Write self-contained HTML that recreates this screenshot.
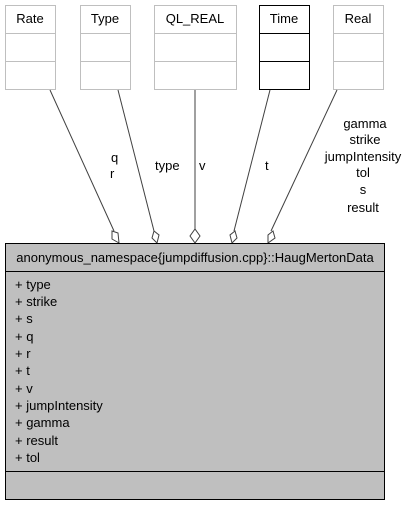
<!DOCTYPE html>
<html><head><style>
body{margin:0;background:#fff;width:409px;height:507px;overflow:hidden}
svg text{font-family:"Liberation Sans",sans-serif;font-size:13px;fill:#000}
</style></head><body>
<svg width="409" height="507" xmlns="http://www.w3.org/2000/svg">
<g fill="#fff" stroke="#bfbfbf" stroke-width="1">
<rect x="5.5" y="5.5" width="50" height="84"/><line x1="5" y1="33.5" x2="56" y2="33.5"/><line x1="5" y1="61.5" x2="56" y2="61.5"/>
<rect x="80.5" y="5.5" width="50" height="84"/><line x1="80" y1="33.5" x2="131" y2="33.5"/><line x1="80" y1="61.5" x2="131" y2="61.5"/>
<rect x="154.5" y="5.5" width="82" height="84"/><line x1="154" y1="33.5" x2="237" y2="33.5"/><line x1="154" y1="61.5" x2="237" y2="61.5"/>
<rect x="333.5" y="5.5" width="50" height="84"/><line x1="333" y1="33.5" x2="384" y2="33.5"/><line x1="333" y1="61.5" x2="384" y2="61.5"/>
</g>
<g fill="#fff" stroke="#000" stroke-width="1">
<rect x="259.5" y="5.5" width="50" height="84"/><line x1="259" y1="33.5" x2="310" y2="33.5"/><line x1="259" y1="61.5" x2="310" y2="61.5"/>
</g>
<g text-anchor="middle">
<text x="30" y="23">Rate</text><text x="105" y="23">Type</text><text x="195" y="23">QL_REAL</text><text x="284" y="23">Time</text><text x="358" y="23">Real</text>
</g>
<g stroke="#404040" fill="none">
<line x1="50" y1="90" x2="114" y2="231"/>
<line x1="118" y1="90" x2="154" y2="231"/>
<line x1="195" y1="90" x2="195" y2="229"/>
<line x1="270" y1="90" x2="234" y2="231"/>
<line x1="337" y1="90" x2="271" y2="231"/>
</g>
<g stroke="#404040" fill="#fff">
<polygon points="119,243 112,239 112,231 118,233"/>
<polygon points="157,243 152,238 154,231 159,235"/>
<polygon points="195,243 190,236 195,229 200,236"/>
<polygon points="232,243 230,235 235,231 237,238"/>
<polygon points="268,243 268,235 273,231 275,238"/>
</g>
<text x="111" y="162">q</text><text x="110" y="178">r</text>
<text x="155" y="170">type</text><text x="199" y="170">v</text><text x="265" y="170">t</text>
<g text-anchor="middle">
<text x="365" y="128">gamma</text><text x="365" y="144">strike</text><text x="363" y="161">jumpIntensity</text><text x="363" y="177">tol</text><text x="363" y="194">s</text><text x="363" y="212">result</text>
</g>
<rect x="5.5" y="243.5" width="379" height="256" fill="#bfbfbf" stroke="#000"/>
<line x1="5" y1="271.5" x2="385" y2="271.5" stroke="#000"/>
<line x1="5" y1="471.5" x2="385" y2="471.5" stroke="#000"/>
<text x="195" y="262" text-anchor="middle">anonymous_namespace{jumpdiffusion.cpp}::HaugMertonData</text>
<g>
<text x="15" y="289">+ type</text><text x="15" y="306">+ strike</text><text x="15" y="323">+ s</text><text x="15" y="341">+ q</text><text x="15" y="358">+ r</text><text x="15" y="375">+ t</text><text x="15" y="393">+ v</text><text x="15" y="410">+ jumpIntensity</text><text x="15" y="427">+ gamma</text><text x="15" y="445">+ result</text><text x="15" y="462">+ tol</text>
</g>
</svg>
</body></html>
